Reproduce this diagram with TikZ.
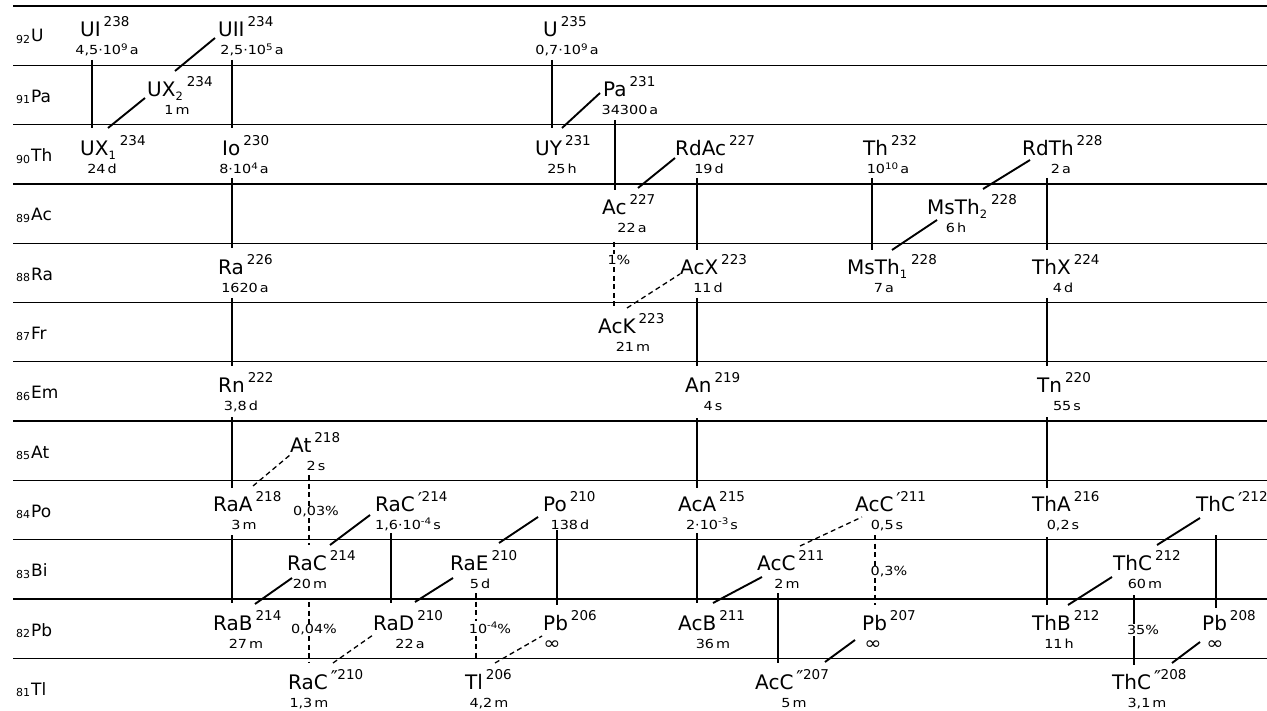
\documentclass[tikz,border=0pt]{standalone}
\usepackage{fontspec}
\setmainfont{DejaVu Sans}
\newfontfamily\hlfam{DejaVu Sans}[FakeStretch=1.15]
\newcommand\namef{\fontsize{20}{20}\selectfont}
\newcommand\supf{\fontsize{13.5}{13.5}\selectfont}
\newcommand\subf{\fontsize{11.5}{11.5}\selectfont}
\newcommand\hlf{\hlfam\fontsize{12.5}{12.5}\selectfont}
\newcommand\elf{\fontsize{17}{17}\selectfont}
\newcommand\ex[1]{\raisebox{4.5pt}{\fontsize{9}{9}\selectfont #1}}
\newcommand\sbs[1]{\raisebox{-4pt}{\subf #1}\kern1pt}
\newcommand\elsub[1]{\raisebox{-1.5pt}{\fontsize{11}{11}\selectfont #1}\kern1pt}
\newcommand\pr{\raisebox{-5pt}{\fontsize{19}{19}\selectfont ′}\kern-0.5pt}
\newcommand\ppr{\raisebox{-5pt}{\fontsize{19}{19}\selectfont ″}\kern-0.5pt}
\newcommand\infsym{\raisebox{-1pt}{\fontsize{18}{18}\selectfont ∞}}
\newcommand\nuc[7]{%
  \node[nm] (#1) at ({#2},{6+(92-#3)*59.3+31}) {#4\kern3pt\raisebox{10pt}{\supf #5}};
  \node[hl] (#1h) at ({#6},{6+(92-#3)*59.3+49}) {#7};}
\newcommand\link[5]{%
  \coordinate (#2-#4-a) at (#3);
  \coordinate (#2-#4-b) at (#5);
  \draw[#1] (#2-#4-a) -- (#2-#4-b);}
\tikzset{
  nm/.style={anchor=base west,inner sep=0pt,font=\namef},
  hl/.style={anchor=base,inner sep=0pt,font=\hlf},
  el/.style={anchor=base west,inner sep=0pt,font=\elf},
  pc/.style={fill=white,inner sep=1pt,font=\hlf},
  rowline/.style={line width=1.3pt},
  dec/.style={line width=1.9pt},
  dsh/.style={line width=1.3pt,dash pattern=on 5pt off 3.5pt},
}
\begin{document}
\begin{tikzpicture}[x=1pt,y=-1pt]
\useasboundingbox (0,0) rectangle (1267,711);
% row lines
\foreach \k in {0,...,11} {
  \coordinate (L\k) at (13,{6+\k*59.3});
  \coordinate (R\k) at (1267,{6+\k*59.3});
  \draw[rowline] (L\k) -- (R\k);
}
% element labels
\node[el] (e92) at (16,{6+0*59.3+36}) {\elsub{92}U};
\node[el] (e91) at (16,{6+1*59.3+37}) {\elsub{91}Pa};
\node[el] (e90) at (16,{6+2*59.3+37}) {\elsub{90}Th};
\node[el] (e89) at (16,{6+3*59.3+37}) {\elsub{89}Ac};
\node[el] (e88) at (16,{6+4*59.3+37}) {\elsub{88}Ra};
\node[el] (e87) at (16,{6+5*59.3+37}) {\elsub{87}Fr};
\node[el] (e86) at (16,{6+6*59.3+37}) {\elsub{86}Em};
\node[el] (e85) at (16,{6+7*59.3+37}) {\elsub{85}At};
\node[el] (e84) at (16,{6+8*59.3+37}) {\elsub{84}Po};
\node[el] (e83) at (16,{6+9*59.3+37}) {\elsub{83}Bi};
\node[el] (e82) at (16,{6+10*59.3+37}) {\elsub{82}Pb};
\node[el] (e81) at (16,{6+11*59.3+37}) {\elsub{81}Tl};
% nuclides
\nuc{UI}{80}{92}{UI}{238}{107}{4,5·10\ex{9}\,a}
\nuc{UXa}{80}{90}{UX\sbs{1}}{234}{102}{24\,d}
\nuc{UXb}{147}{91}{UX\sbs{2}}{234}{177}{1\,m}
\nuc{UII}{218}{92}{UII}{234}{252}{2,5·10\ex{5}\,a}
\nuc{Io}{222}{90}{Io}{230}{244}{8·10\ex{4}\,a}
\nuc{Ra}{218}{88}{Ra}{226}{245}{1620\,a}
\nuc{Rn}{218}{86}{Rn}{222}{241}{3,8\,d}
\nuc{RaA}{213}{84}{RaA}{218}{244}{3\,m}
\nuc{At}{290}{85}{At}{218}{316}{2\,s}
\nuc{RaB}{213}{82}{RaB}{214}{246}{27\,m}
\nuc{RaC}{287}{83}{RaC}{214}{310}{20\,m}
\nuc{RaCp}{375}{84}{RaC}{\pr 214}{408}{1,6·10\ex{-4}\,s}
\nuc{RaCpp}{288}{81}{RaC}{\ppr 210}{309}{1,3\,m}
\nuc{RaD}{373}{82}{RaD}{210}{410}{22\,a}
\nuc{RaE}{450}{83}{RaE}{210}{480}{5\,d}
\nuc{Po}{543}{84}{Po}{210}{570}{138\,d}
\nuc{Tl}{465}{81}{Tl}{206}{489}{4,2\,m}
\nuc{PbA}{543}{82}{Pb}{206}{552}{\infsym}
\nuc{U}{543}{92}{U}{235}{567}{0,7·10\ex{9}\,a}
\nuc{UY}{535}{90}{UY}{231}{562}{25\,h}
\nuc{Pa}{603}{91}{Pa}{231}{630}{34300\,a}
\nuc{Ac}{602}{89}{Ac}{227}{632}{22\,a}
\nuc{RdAc}{675}{90}{RdAc}{227}{709}{19\,d}
\nuc{AcK}{598}{87}{AcK}{223}{633}{21\,m}
\nuc{AcX}{680}{88}{AcX}{223}{708}{11\,d}
\nuc{An}{685}{86}{An}{219}{713}{4\,s}
\nuc{AcA}{678}{84}{AcA}{215}{712}{2·10\ex{-3}\,s}
\nuc{AcB}{678}{82}{AcB}{211}{713}{36\,m}
\nuc{AcC}{757}{83}{AcC}{211}{787}{2\,m}
\nuc{AcCpp}{755}{81}{AcC}{\ppr 207}{794}{5\,m}
\nuc{AcCp}{855}{84}{AcC}{\pr 211}{887}{0,5\,s}
\nuc{PbB}{862}{82}{Pb}{207}{873}{\infsym}
\nuc{Th}{863}{90}{Th}{232}{888}{10\ex{10}\,a}
\nuc{MsTha}{847}{88}{MsTh\sbs{1}}{228}{884}{7\,a}
\nuc{MsThb}{927}{89}{MsTh\sbs{2}}{228}{956}{6\,h}
\nuc{RdTh}{1022}{90}{RdTh}{228}{1061}{2\,a}
\nuc{ThX}{1032}{88}{ThX}{224}{1063}{4\,d}
\nuc{Tn}{1037}{86}{Tn}{220}{1067}{55\,s}
\nuc{ThA}{1032}{84}{ThA}{216}{1063}{0,2\,s}
\nuc{ThB}{1032}{82}{ThB}{212}{1059}{11\,h}
\nuc{ThC}{1113}{83}{ThC}{212}{1145}{60\,m}
\nuc{ThCp}{1196}{84}{ThC}{\pr 212}{1230}{}
\nuc{ThCpp}{1112}{81}{ThC}{\ppr 208}{1147}{3,1\,m}
\nuc{PbC}{1202}{82}{Pb}{208}{1215}{\infsym}
% alpha decays
\link{dec}{UI}{92,60}{UXa}{92,128}
\link{dec}{UII}{232,60}{Io}{232,128}
\link{dec}{Io}{232,178}{Ra}{232,248}
\link{dec}{Ra}{232,298}{Rn}{232,366}
\link{dec}{Rn}{232,417}{RaA}{232,488}
\link{dec}{RaA}{232,535}{RaB}{232,603}
\link{dec}{RaCp}{391,533}{RaD}{391,603}
\link{dec}{Po}{557,530}{PbA}{557,605}
\link{dec}{U}{552,60}{UY}{552,128}
\link{dec}{Pa}{615,120}{Ac}{615,190}
\link{dec}{RdAc}{697,178}{AcX}{697,250}
\link{dec}{AcX}{697,298}{An}{697,366}
\link{dec}{An}{697,418}{AcA}{697,488}
\link{dec}{AcA}{697,533}{AcB}{697,603}
\link{dec}{AcC}{778,593}{AcCpp}{778,663}
\link{dec}{Th}{872,178}{MsTha}{872,250}
\link{dec}{RdTh}{1047,178}{ThX}{1047,250}
\link{dec}{ThX}{1047,298}{Tn}{1047,366}
\link{dec}{Tn}{1047,417}{ThA}{1047,488}
\link{dec}{ThA}{1047,537}{ThB}{1047,605}
\link{dec}{ThCp}{1216,535}{PbC}{1216,608}
\link{dec}{ThC}{1134,595}{ThCpp}{1134,665}
% dashed alpha branches
\link{dsh}{At}{309,475}{RaC}{309,545}
\link{dsh}{RaC}{309,602}{RaCpp}{309,662}
\link{dsh}{RaE}{476,593}{Tl}{476,660}
\link{dsh}{Ac}{614,242}{AcK}{614,308}
\link{dsh}{AcCp}{875,535}{PbB}{875,605}
% beta decays
\link{dec}{UXa}{108,128}{UXb}{145,98}
\link{dec}{UXb}{175,71}{UII}{215,38}
\link{dec}{RaB}{255,604}{RaC}{292,578}
\link{dec}{RaC}{330,545}{RaCp}{370,515}
\link{dec}{RaD}{415,602}{RaE}{453,578}
\link{dec}{RaE}{499,543}{Po}{538,517}
\link{dec}{UY}{562,128}{Pa}{600,93}
\link{dec}{Ac}{638,188}{RdAc}{675,158}
\link{dec}{AcB}{713,603}{AcC}{762,577}
\link{dec}{AcCpp}{825,662}{PbB}{855,640}
\link{dec}{MsTha}{892,250}{MsThb}{937,220}
\link{dec}{MsThb}{983,189}{RdTh}{1030,160}
\link{dec}{ThB}{1068,605}{ThC}{1112,577}
\link{dec}{ThC}{1157,545}{ThCp}{1200,518}
\link{dec}{ThCpp}{1172,663}{PbC}{1200,642}
% dashed beta branches
\link{dsh}{RaA}{253,486}{At}{290,455}
\link{dsh}{RaCpp}{333,663}{RaD}{373,635}
\link{dsh}{Tl}{495,663}{PbA}{542,636}
\link{dsh}{AcK}{627,308}{AcX}{680,274}
\link{dsh}{AcC}{800,546}{AcCp}{862,517}
% branching ratios
\node[pc] (p1) at (316,512) {0,03\%};
\node[pc] (p2) at (314,630) {0,04\%};
\node[pc] (p3) at (490,628) {10\ex{-4}\%};
\node[pc] (p4) at (619,260) {1\%};
\node[pc] (p5) at (889,572) {0,3\%};
\node[pc] (p6) at (1143,630) {35\%};
\end{tikzpicture}
\end{document}
